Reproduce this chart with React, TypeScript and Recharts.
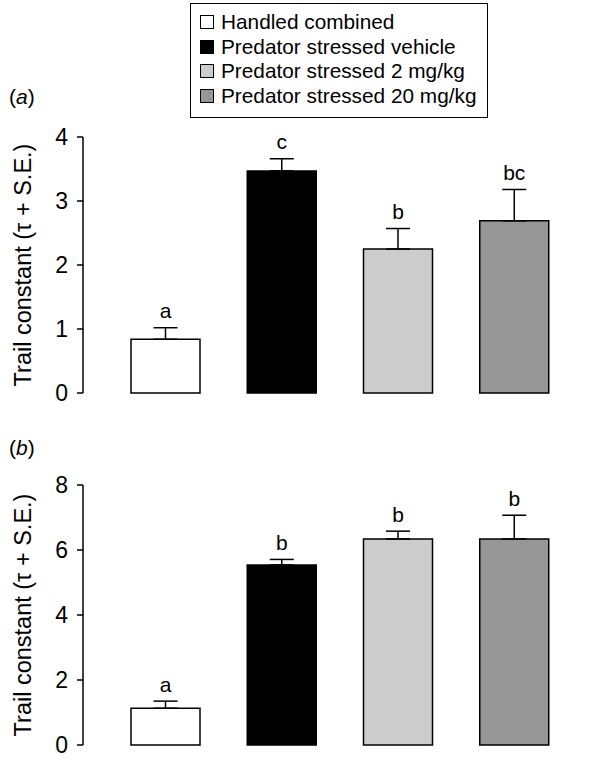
import React from "react";
import { BarChart, Bar, XAxis, YAxis, Cell, ErrorBar, LabelList } from "recharts";

const GROUPS = [
  "Handled combined",
  "Predator stressed vehicle",
  "Predator stressed 2 mg/kg",
  "Predator stressed 20 mg/kg",
];
const COLORS = ["#ffffff", "#000000", "#cccccc", "#969696"];

// panel (a)
const MEAN_A = [0.84, 3.47, 2.25, 2.69];
const SE_A = [0.18, 0.19, 0.32, 0.49];
const LETTERS_A = ["a", "c", "b", "bc"];
const TICKS_A = [0, 1, 2, 3, 4];

// panel (b)
const MEAN_B = [1.13, 5.54, 6.34, 6.34];
const SE_B = [0.22, 0.17, 0.24, 0.73];
const LETTERS_B = ["a", "b", "b", "b"];
const TICKS_B = [0, 2, 4, 6, 8];

const FONT = "'Liberation Sans', Arial, Helvetica, sans-serif";
const Y_TITLE = "Trail constant (\u03c4 + S.E.)";

function build(mean: number[], se: number[], letters: string[]) {
  return GROUPS.map((g, i) => ({
    group: g,
    mean: mean[i],
    err: [0, se[i]],
    letter: letters[i],
  }));
}

function YTitle(props: any) {
  const vb = props.viewBox || {};
  const cy = (vb.y ?? 0) + (vb.height ?? 0) / 2;
  return (
    <text
      x={23}
      y={cy}
      transform={`rotate(-90, 23, ${cy})`}
      textAnchor="middle"
      dominantBaseline="central"
      fontSize={23.5}
      fontFamily={FONT}
      fill="#000"
    >
      {Y_TITLE}
    </text>
  );
}

function makeLetter(mean: number[], se: number[]) {
  return (props: any) => {
    const { x, y, width, height, value, index } = props;
    // pixels per unit from the bar itself, so the letter sits above the error cap
    const perUnit = height / mean[index];
    const top = y - se[index] * perUnit;
    return (
      <text
        x={x + width / 2}
        y={top - 17}
        textAnchor="middle"
        dominantBaseline="central"
        fontSize={21}
        fontFamily={FONT}
        fill="#000"
      >
        {value}
      </text>
    );
  };
}

interface PanelProps {
  mean: number[];
  se: number[];
  letters: string[];
  ticks: number[];
  width: number;
  height: number;
  margin: { top: number; right: number; bottom: number; left: number };
}

function Panel({ mean, se, letters, ticks, width, height, margin }: PanelProps) {
  const data = build(mean, se, letters);
  return (
    <BarChart width={width} height={height} data={data} margin={margin}>
      <XAxis
        dataKey="group"
        type="category"
        height={0}
        tick={false}
        tickLine={false}
        axisLine={{ stroke: "#000", strokeWidth: 1.5 }}
        padding={{ left: 24, right: 24 }}
      />
      <YAxis
        width={83}
        domain={[ticks[0], ticks[ticks.length - 1]]}
        ticks={ticks}
        interval={0}
        tickSize={6}
        tickMargin={9}
        axisLine={{ stroke: "#000", strokeWidth: 1.5 }}
        tickLine={{ stroke: "#000", strokeWidth: 1.5 }}
        tick={{ fill: "#000", fontSize: 23, fontFamily: FONT }}
        label={(p: any) => <YTitle {...p} />}
      />
      <Bar dataKey="mean" barSize={69} stroke="#000" strokeWidth={1.5} isAnimationActive={false}>
        {data.map((_, i) => (
          <Cell key={i} fill={COLORS[i]} />
        ))}
        <ErrorBar dataKey="err" direction="y" width={12} stroke="#000" strokeWidth={1.5} isAnimationActive={false} />
        <LabelList dataKey="letter" content={makeLetter(mean, se)} />
      </Bar>
    </BarChart>
  );
}

export default function App() {
  return (
    <div style={{ position: "absolute", left: 0, top: 0, width: 602, height: 763, background: "#fff", fontFamily: FONT }}>
      {/* legend */}
      <div
        style={{
          position: "absolute",
          left: 190,
          top: 3,
          width: 298,
          height: 115,
          border: "1.5px solid #000",
          padding: "6px 0 0 9px",
          boxSizing: "border-box",
        }}
      >
        {GROUPS.map((g, i) => (
          <div key={g} style={{ display: "flex", alignItems: "center", height: 24.6, fontSize: 20.8, color: "#000", whiteSpace: "nowrap" }}>
            <span
              style={{
                display: "inline-block",
                width: 12,
                height: 12,
                border: "1.5px solid #000",
                background: COLORS[i],
                marginRight: 7,
                flexShrink: 0,
              }}
            />
            {g}
          </div>
        ))}
      </div>

      <div style={{ position: "absolute", left: 9, top: 85, fontSize: 21, color: "#000" }}>
        (<i>a</i>)
      </div>
      <div style={{ position: "absolute", left: 9, top: 436, fontSize: 21, color: "#000" }}>
        (<i>b</i>)
      </div>

      <div style={{ position: "absolute", left: 0, top: 0 }}>
        <Panel
          mean={MEAN_A}
          se={SE_A}
          letters={LETTERS_A}
          ticks={TICKS_A}
          width={602}
          height={420}
          margin={{ top: 137, right: 6, bottom: 27, left: 0 }}
        />
      </div>
      <div style={{ position: "absolute", left: 0, top: 420 }}>
        <Panel
          mean={MEAN_B}
          se={SE_B}
          letters={LETTERS_B}
          ticks={TICKS_B}
          width={602}
          height={343}
          margin={{ top: 65, right: 6, bottom: 18, left: 0 }}
        />
      </div>
    </div>
  );
}
